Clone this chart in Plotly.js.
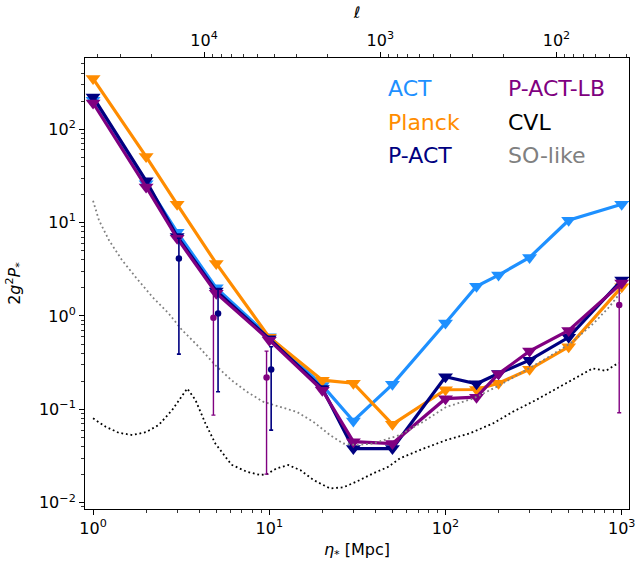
<!DOCTYPE html>
<html>
<head>
<meta charset="utf-8">
<script src="https://cdn.plot.ly/plotly-3.0.1.min.js"></script>
<style>html,body{margin:0;padding:0;background:#fff;}#chart{width:636px;height:561px;}</style>
</head>
<body>
<div id="chart"></div>
<script>
// ---- data ----
const ETA = [1, 2, 3, 5, 10, 20, 30, 50, 100, 150, 200, 300, 500, 1000];
const ACT = [205, 26, 7.9, 2.0, 0.6, 0.18, 0.075, 0.185, 0.84, 2.08, 2.74, 4.23, 10.6, 15.7];
const PLANCK = [349, 51, 15.7, 3.65, 0.59, 0.205, 0.19, 0.069, 0.162, 0.163, 0.19, 0.268, 0.467, 2.05];
const PACT = [222, 28, 7.1, 1.85, 0.57, 0.167, 0.038, 0.038, 0.223, 0.188, 0.242, 0.336, 0.59, 2.42];
const PACTLB = [191, 24.1, 6.8, 1.75, 0.55, 0.16, 0.045, 0.043, 0.13, 0.135, 0.24, 0.42, 0.70, 2.25];

const CVL_ETA = [1.0, 1.18, 1.40, 1.67, 2.0, 2.36, 2.81, 3.2, 3.42, 3.81, 4.34, 4.94, 6.1, 7.47, 8.88, 9.69, 11.0, 12.8, 15.0, 17.8, 22.1, 26.3, 31.3, 38.9, 47.3, 55.1, 71.4, 101, 137, 186, 241, 327, 443, 574, 684, 814, 961];
const CVL_VAL = [0.080, 0.065, 0.056, 0.053, 0.057, 0.068, 0.098, 0.142, 0.167, 0.126, 0.0706, 0.043, 0.0255, 0.0214, 0.0198, 0.0202, 0.0233, 0.0253, 0.0223, 0.0175, 0.0142, 0.0146, 0.0168, 0.0206, 0.0242, 0.0298, 0.0366, 0.0468, 0.0552, 0.0706, 0.094, 0.126, 0.174, 0.232, 0.274, 0.258, 0.315];

const SO_ETA = [1.0, 1.08, 1.23, 1.46, 1.74, 2.17, 2.69, 3.2, 3.98, 4.94, 6.1, 7.47, 9.27, 11.5, 14.3, 17.8, 22.1, 26.3, 31.3, 38.9, 47.3, 55, 74.6, 101, 143, 203, 275, 373, 527, 700, 850, 1000];
const SO_VAL = [17.1, 10.6, 6.49, 3.96, 2.62, 1.60, 1.06, 0.705, 0.467, 0.297, 0.205, 0.154, 0.12, 0.106, 0.094, 0.0734, 0.053, 0.043, 0.0414, 0.043, 0.0489, 0.053, 0.0734, 0.106, 0.13, 0.181, 0.252, 0.351, 0.528, 0.85, 1.25, 1.85];

const ERR_PACT_ETA = [3.07, 5.12, 10.25];
const ERR_PACT_VAL = [4.13, 1.06, 0.267];
const ERR_PACT_HI = [6.8, 1.95, 0.467];
const ERR_PACT_LO = [0.39, 0.154, 0.0598];

const ERR_LB_ETA = [4.82, 9.65, 968];
const ERR_LB_VAL = [0.955, 0.219, 1.31];
const ERR_LB_HI = [1.81, 0.42, 2.0];
const ERR_LB_LO = [0.0867, 0.0202, 0.0918];

const X_TICKS = [1, 10, 100, 1000];
const X_TICK_TEXT = ['10<sup>0</sup>', '10<sup>1</sup>', '10<sup>2</sup>', '10<sup>3</sup>'];
const Y_TICKS = [0.01, 0.1, 1, 10, 100];
const Y_TICK_TEXT = ['10<sup>−2</sup>', '10<sup>−1</sup>', '10<sup>0</sup>', '10<sup>1</sup>', '10<sup>2</sup>'];
const L_TICKS = [100, 1000, 10000];
const L_TICK_TEXT = ['10<sup>2</sup>', '10<sup>3</sup>', '10<sup>4</sup>'];

const LEGEND_LABELS = ['ACT', 'Planck', 'P-ACT', 'P-ACT-LB', 'CVL', 'SO-like'];
const COLORS = {ACT: '#1E90FF', Planck: '#FF8C00', 'P-ACT': '#000080', 'P-ACT-LB': '#800080', CVL: '#000000', 'SO-like': '#808080'};

const ELL_ETA_LOG = 4.63; // log10(ell * eta)

function minorVals(lo, hi) {
  const out = [];
  for (let e = lo; e <= hi; e++) {
    for (let d = 2; d <= 9; d++) out.push(d * Math.pow(10, e));
  }
  return out;
}

const FONT = 'DejaVu Sans, sans-serif';

function mainTrace(y, name) {
  return {
    x: ETA, y: y, type: 'scatter', mode: 'lines+markers', name: name,
    line: {color: COLORS[name], width: 3.2},
    marker: {symbol: 'triangle-down', size: 13, color: COLORS[name]},
    showlegend: false, hoverinfo: 'skip'
  };
}

function errTrace(x, y, hi, lo, color, w) {
  return {
    x: x, y: y, type: 'scatter', mode: 'markers',
    marker: {symbol: 'circle', size: 6.5, color: color},
    error_y: {
      type: 'data', symmetric: false,
      array: y.map((v, i) => hi[i] - v),
      arrayminus: y.map((v, i) => v - lo[i]),
      color: color, thickness: w, width: 2
    },
    showlegend: false, hoverinfo: 'skip'
  };
}

const DOTS = '1.8px,2.8px';

const traces = [
  mainTrace(ACT, 'ACT'),
  mainTrace(PLANCK, 'Planck'),
  mainTrace(PACT, 'P-ACT'),
  mainTrace(PACTLB, 'P-ACT-LB'),
  {x: CVL_ETA, y: CVL_VAL, type: 'scatter', mode: 'lines', line: {color: COLORS.CVL, width: 1.8, dash: DOTS}, showlegend: false, hoverinfo: 'skip'},
  {x: SO_ETA, y: SO_VAL, type: 'scatter', mode: 'lines', line: {color: COLORS['SO-like'], width: 1.8, dash: DOTS}, showlegend: false, hoverinfo: 'skip'},
  errTrace(ERR_PACT_ETA, ERR_PACT_VAL, ERR_PACT_HI, ERR_PACT_LO, COLORS['P-ACT'], 1.6),
  errTrace(ERR_LB_ETA, ERR_LB_VAL, ERR_LB_HI, ERR_LB_LO, COLORS['P-ACT-LB'], 1.4),
  // invisible carrier for the top multipole axis (ell = 10^4.63 / eta)
  {x: ETA.map(e => Math.pow(10, ELL_ETA_LOG) / e), y: ACT, xaxis: 'x2', yaxis: 'y', type: 'scatter', mode: 'markers',
   marker: {size: 1, opacity: 0}, showlegend: false, hoverinfo: 'skip'}
];

const xmin = 0.9, xmax = 1100;
const L = 85, R = 629, T = 58, B = 509;

const legendRows = [88, 122, 155];
const legendCols = [386, 506];
const annotations = LEGEND_LABELS.map((lab, i) => ({
  xref: 'paper', yref: 'paper',
  x: (legendCols[Math.floor(i / 3)] - L) / (R - L),
  y: (B - legendRows[i % 3]) / (B - T),
  xanchor: 'left', yanchor: 'middle', showarrow: false,
  text: lab, font: {family: FONT, size: 22, color: COLORS[lab]}
}));

const axCommon = {
  type: 'log', showgrid: false, zeroline: false,
  ticks: 'outside', ticklen: 5, tickwidth: 1, tickcolor: '#000',
  showline: true, linecolor: '#000', linewidth: 1,
  tickfont: {family: FONT, size: 16, color: '#000'},
  tickmode: 'array'
};

const layout = {
  width: 636, height: 561,
  margin: {l: L, r: 636 - R, t: T, b: 561 - B},
  paper_bgcolor: '#fff', plot_bgcolor: '#fff',
  font: {family: FONT, color: '#000'},
  xaxis: Object.assign({}, axCommon, {
    range: [Math.log10(xmin), Math.log10(xmax)],
    tickvals: X_TICKS, ticktext: X_TICK_TEXT, mirror: true,
    minor: {tickmode: 'array', tickvals: minorVals(0, 2), ticks: 'outside', ticklen: 3, tickwidth: 0.8, tickcolor: '#000', showgrid: false},
    title: {text: '<i>η</i><sub>*</sub> [Mpc]', font: {family: FONT, size: 16, color: '#000'}, standoff: 6},
    automargin: false
  }),
  xaxis2: Object.assign({}, axCommon, {
    overlaying: 'x', side: 'top', anchor: 'y',
    range: [ELL_ETA_LOG - Math.log10(xmin), ELL_ETA_LOG - Math.log10(xmax)],
    tickvals: L_TICKS, ticktext: L_TICK_TEXT,
    minor: {tickmode: 'array', tickvals: minorVals(1, 4), ticks: 'outside', ticklen: 3, tickwidth: 0.8, tickcolor: '#000', showgrid: false},
    title: {text: '<i>ℓ</i>', font: {family: FONT, size: 16, color: '#000'}, standoff: 6},
    automargin: false
  }),
  yaxis: Object.assign({}, axCommon, {
    range: [-2.068, 2.763],
    tickvals: Y_TICKS, ticktext: Y_TICK_TEXT, mirror: true,
    minor: {tickmode: 'array', tickvals: minorVals(-3, 3), ticks: 'outside', ticklen: 3, tickwidth: 0.8, tickcolor: '#000', showgrid: false},
    title: {text: '2<i>g</i><sup>2</sup><i>P</i><sub>*</sub>', font: {family: FONT, size: 16, color: '#000'}, standoff: 14},
    automargin: false
  }),
  annotations: annotations
};

Plotly.newPlot('chart', traces, layout, {displayModeBar: false, staticPlot: true});
</script>
</body>
</html>
